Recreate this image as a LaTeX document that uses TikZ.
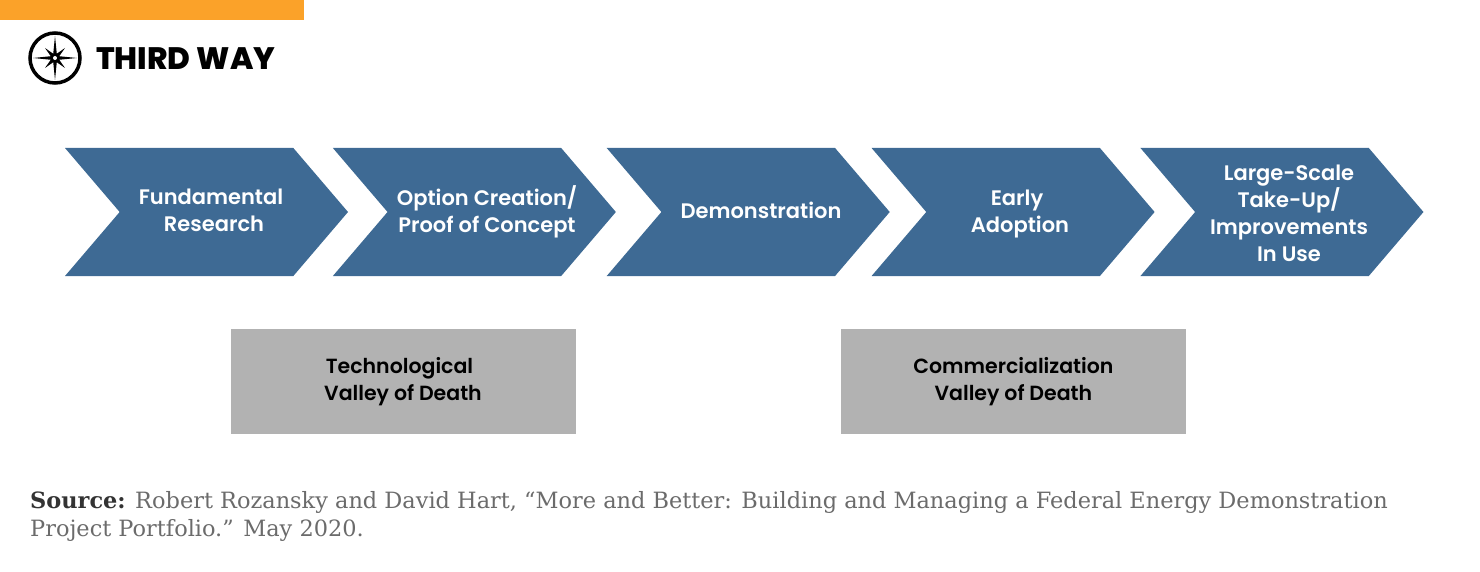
\documentclass[tikz,border=0pt]{standalone}
\usepackage{fontspec}
\setmainfont{Poppins}[BoldFont={Poppins SemiBold}]
\newfontfamily\logofont{Poppins ExtraBold}
\newfontfamily\sourcefont{DejaVu Serif}
\usetikzlibrary{positioning,shapes.symbols}
\definecolor{bandorange}{HTML}{FBA229}
\definecolor{stepblue}{HTML}{3E6A94}
\definecolor{valleygray}{HTML}{B2B2B2}
\definecolor{sourcegray}{HTML}{6B6B6B}

\begin{document}
\begin{tikzpicture}[x=1pt,y=-1pt,
    stepbox/.style={signal,signal from=west,signal to=east,signal pointer angle=99,fill=stepblue,text=white,
        minimum width=283pt,minimum height=128pt,inner sep=0pt},
    steptext/.style={text=white,inner sep=0pt,align=center,font=\fontsize{21}{27}\selectfont\bfseries},
    valley/.style={fill=valleygray,text=black,minimum width=345pt,minimum height=105pt,inner sep=0pt,align=center,
        font=\fontsize{20.5}{27}\selectfont\bfseries}]
    \useasboundingbox (0,0) rectangle (1480,572);
    \fill[bandorange] (0,0) rectangle (304,20);

    % logo
    \node[circle,draw=black,line width=3.5pt,minimum size=50pt,inner sep=0pt] (compass) at (55,58) {};
    \fill[black] (55,36) -- (57,56) -- (77,58) -- (57,60) -- (55,80) -- (53,60) -- (33,58) -- (53,56) -- cycle;
    \fill[black] (65,48) -- (58,58) -- (65,68) -- (55,61) -- (45,68) -- (52,58) -- (45,48) -- (55,55) -- cycle;
    \fill[white] (55,58) circle (2pt);
    \node[font=\fontsize{31}{31}\selectfont\logofont,anchor=west,inner sep=0pt] (brand) at (96,59) {THIRD WAY};

    \node[stepbox] (research) at (206.5,212) {};
    \node[stepbox] (option) [right=39pt of research] {};
    \node[stepbox] (demo) [right=45pt of option] {};
    \node[stepbox] (early) [right=36pt of demo] {};
    \node[stepbox] (takeup) [right=40pt of early] {};

    \node[steptext] (researchtext) at (211,210) {Fundamental\\\hspace*{6pt}Research};
    \node[steptext] (optiontext) at (487,212) {Option Creation/\\Proof of Concept};
    \node[steptext] (demotext) at (761,210) {Demonstration};
    \node[steptext] (earlytext) at (1020,214) {Early\hspace*{6pt}\\Adoption};
    \node[steptext] (takeuptext) at (1289,213) {Large-Scale\\Take-Up/\\Improvements\\In Use};

    \node[valley] (techvalley) at (403,381.5) {Technological\hspace*{7pt}\\Valley of Death};
    \node[valley] (commvalley) [right=265pt of techvalley] {Commercialization\\Valley of Death};

    \node[anchor=north west,inner sep=0pt,align=left,text=sourcegray,font=\fontsize{22.44}{28}\selectfont\sourcefont] (source) at (30,491)
        {{\color{black!80}\bfseries Source:} Robert Rozansky and David Hart, “More and Better: Building and Managing a Federal Energy Demonstration\\Project Portfolio.” May 2020.};
\end{tikzpicture}
\end{document}
